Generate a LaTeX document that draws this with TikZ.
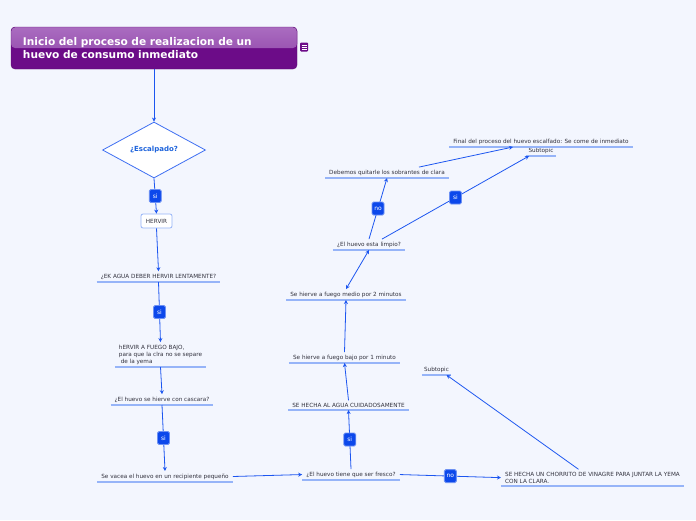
\documentclass[tikz,border=0pt]{standalone}
\usepackage{fontspec}
\setmainfont{DejaVu Sans}
\usepackage{tikz}
\usetikzlibrary{shapes.geometric, arrows.meta, positioning}
\usepackage{xcolor}
\definecolor{bgblue}{RGB}{243, 246, 254}
\definecolor{linkblue}{RGB}{28, 86, 240}
\definecolor{tagblue}{RGB}{12, 72, 235}
\definecolor{ulblue}{RGB}{150, 180, 248}
\definecolor{textgray}{RGB}{50, 50, 62}
\definecolor{decblue}{RGB}{30, 100, 220}
\definecolor{titletop}{RGB}{170, 108, 192}
\definecolor{titlemid}{RGB}{140, 64, 166}
\definecolor{titledark}{RGB}{108, 12, 136}

\begin{document}
\begin{tikzpicture}[
  x=1pt, y=-1pt,
  >={Stealth[length=4pt, width=4pt]},
  topic/.style    = {font=\fontsize{5.7}{7}\selectfont, text=textgray,
                     inner xsep=4pt, inner ysep=2.5pt, anchor=south},
  uline/.style    = {draw=ulblue, line width=1.1pt},
  titlebox/.style = {rectangle, rounded corners=4pt, draw=titledark!85!black,
                     fill=titledark, minimum width=286pt, minimum height=42pt,
                     text width=262pt, align=left, text=white,
                     font=\fontsize{10.6}{13}\selectfont\bfseries,
                     path picture={\fill[top color=titletop, bottom color=titlemid]
                       (path picture bounding box.north west) rectangle
                       (path picture bounding box.east);}},
  notes/.style    = {rectangle, rounded corners=1pt, fill=titledark,
                     minimum width=8pt, minimum height=9pt, inner sep=0pt,
                     path picture={\foreach \k in {-2,0,2}
                       \draw[white, line width=0.6pt]
                       ([xshift=-2.5pt, yshift=\k pt]path picture bounding box.center)
                       -- ++(5pt,0);}},
  decision/.style = {diamond, draw=linkblue!85, fill=white, line width=0.8pt,
                     minimum width=103pt, minimum height=56pt, inner sep=0pt,
                     text=decblue, font=\fontsize{7}{8}\selectfont\bfseries},
  stepbox/.style  = {rectangle, rounded corners=2pt, draw=ulblue, fill=white,
                     line width=0.8pt, minimum width=31pt, minimum height=14pt,
                     inner sep=1pt, text=textgray, font=\fontsize{5.7}{6}\selectfont},
  tag/.style      = {rectangle, rounded corners=1.5pt, fill=tagblue, draw=tagblue!60,
                     text=white, font=\fontsize{6}{6}\selectfont,
                     minimum width=12pt, minimum height=13pt, inner sep=0pt},
  conn/.style     = {->, draw=linkblue, line width=0.8pt}
]
\useasboundingbox[fill=bgblue] (0,0) rectangle (696,520);

%% Central topic
\node[titlebox] (inicio) at (154,48)
  {Inicio del proceso de realizacion de un\\huevo de consumo inmediato};
\node[notes] (nota) at (304,47) {};

%% Left branch
\node[decision] (escalpado) at (154,150) {¿Escalpado?};
\node[stepbox] (hervir) at (156.5,221) {HERVIR};
\node[topic] (ekagua) at (158.5,282) {¿EK AGUA DEBER HERVIR LENTAMENTE?};
\node[topic, align=left] (fuego) at (160.5,367)
  {hERVIR A FUEGO BAJO,\\para que la clra no se separe\\\ de la yema};
\node[topic] (cascara) at (162,405) {¿El huevo se hierve con cascara?};
\node[topic] (vacea) at (165,482) {Se vacea el huevo en un recipiente pequeño};

%% Right branch
\node[topic] (fresco) at (351,480) {¿El huevo tiene que ser fresco?};
\node[topic] (agua) at (348.5,410) {SE HECHA AL AGUA CUIDADOSAMENTE};
\node[topic] (bajo) at (344.5,363) {Se hierve a fuego bajo por 1 minuto};
\node[topic] (medio) at (346,300) {Se hierve a fuego medio por 2 minutos};
\node[topic] (limpio) at (369,250) {¿El huevo esta limpio?};
\node[topic] (sobrantes) at (387,178) {Debemos quitarle los sobrantes de clara};
\node[topic] (final) at (541,147)
  {Final del proceso del huevo escalfado: Se come de inmediato};
\node[topic, inner xsep=2pt] (subfinal) at (541,156) {Subtopic};
\node[topic, inner xsep=2pt] (subvinagre) at (436.5,375) {Subtopic};
\node[topic, align=left] (vinagre) at (592.5,486)
  {SE HECHA UN CHORRITO DE VINAGRE PARA JUNTAR LA YEMA\\CON LA CLARA.};

%% Underlines
\foreach \n in {ekagua, fuego, cascara, vacea, fresco, agua, bajo, medio,
                limpio, sobrantes, final, subfinal, subvinagre, vinagre}
  \draw[uline] (\n.south west) -- (\n.south east);

%% Arrows
\draw[conn] (inicio.south) -- (escalpado.north);
\draw[conn] (escalpado.south) -- node[tag] {si} (hervir.north);
\draw[conn] (hervir.south) -- (ekagua.north);
\draw[conn] (ekagua.south) -- node[tag] {si} (fuego.north);
\draw[conn] (fuego.south) -- (cascara.north);
\draw[conn] (cascara.south) -- node[tag] {si} (vacea.north);
\draw[conn] (vacea.east) -- (fresco.west);
\draw[conn] (fresco.north) -- node[tag] {si} (agua.south);
\draw[conn] (agua.north) -- (bajo.south);
\draw[conn] (bajo.north) -- (medio.south);
\draw[conn, <->] (limpio.south) -- (medio.north);
\draw[conn] (limpio.north) -- node[tag] {no} (sobrantes.south);
\draw[conn] ([xshift=32pt]sobrantes.north) -- ([xshift=-28pt]final.south);
\draw[conn] ([xshift=13pt]limpio.north) -- node[tag] {si} ([xshift=-12pt]subfinal.south);
\draw[conn] (fresco.east) -- node[tag] {no} (vinagre.west);
\draw[conn] ([xshift=-14pt]vinagre.north) -- ([xshift=10pt]subvinagre.south);

\end{tikzpicture}
\end{document}
